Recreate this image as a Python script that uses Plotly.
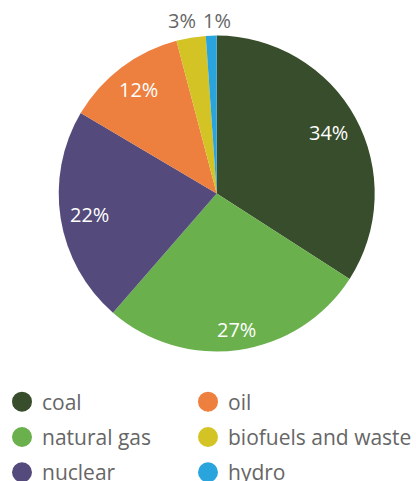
import math
import plotly.graph_objects as go

labels = ["coal", "natural gas", "nuclear", "oil", "biofuels and waste", "hydro"]
values = [34.1, 27.3, 22.1, 12.4, 3.0, 1.1]
colors = ["#384d2b", "#6ab04c", "#544a7c", "#ed7f3f", "#d4c325", "#29a4dd"]
label_inside = [True, True, True, True, False, False]
legend_col1 = ["coal", "natural gas", "nuclear"]
legend_col2 = ["oil", "biofuels and waste", "hydro"]

FONT = "Open Sans"
W, H = 416, 481
dom_x = [58.7 / W, 374.7 / W]
dom_y = [129.5 / H, 445.5 / H]

fig = go.Figure()
fig.add_trace(go.Pie(
    labels=labels, values=values, sort=False, direction="clockwise", rotation=0,
    marker=dict(colors=colors, line=dict(width=0)),
    textinfo="none", automargin=False,
    domain=dict(x=dom_x, y=dom_y),
    showlegend=False, hoverinfo="label+percent",
))

# percentage labels positioned from the slice angles
cx = (dom_x[0] + dom_x[1]) / 2 * W
cy = (1 - (dom_y[0] + dom_y[1]) / 2) * H
R = min((dom_x[1] - dom_x[0]) * W, (dom_y[1] - dom_y[0]) * H) / 2
total = sum(values)
cum = 0.0
placed = []
for lab, v, inside in zip(labels, values, label_inside):
    mid = (cum + v / 2) / total * 2 * math.pi
    cum += v
    txt = f"{round(v / total * 100)}%"
    w = 13.2 * len(txt)
    h = 20
    s, c = math.sin(mid), math.cos(mid)
    ext = w / 2 * abs(s) + h / 2 * abs(c)
    d = (R - 8 - ext) if inside else (R + 5 + ext)
    placed.append(dict(txt=txt, x=cx + d * s, y=cy - d * c, w=w, inside=inside))

# spread neighbouring outside labels apart so they do not collide
outs = sorted([p for p in placed if not p["inside"]], key=lambda p: p["x"])
for a, b in zip(outs, outs[1:]):
    gap = (b["x"] - b["w"] / 2) - (a["x"] + a["w"] / 2)
    need = 8 - gap
    if need > 0 and abs(a["y"] - b["y"]) < 20:
        a["x"] -= need / 2
        b["x"] += need / 2

annotations = [dict(
    x=p["x"] / W, y=1 - p["y"] / H, xref="paper", yref="paper",
    text=p["txt"], showarrow=False, xanchor="center", yanchor="middle",
    font=dict(family=FONT, size=20, color="white" if p["inside"] else "#666666"),
) for p in placed]

cmap = dict(zip(labels, colors))
for col, leg in ((legend_col1, "legend"), (legend_col2, "legend2")):
    for lab in col:
        fig.add_trace(go.Scatter(
            x=[None], y=[None], mode="markers", name=lab,
            marker=dict(symbol="circle", size=15, color=cmap[lab],
                        line=dict(width=5, color=cmap[lab])),
            showlegend=True, legend=leg, legendgroup=lab,
        ))

leg_common = dict(orientation="v", yanchor="top", xanchor="left",
                  tracegroupgap=5, bgcolor="rgba(0,0,0,0)",
                  font=dict(size=21, color="#666666", family=FONT))
fig.update_layout(
    width=W, height=H,
    margin=dict(l=0, r=0, t=0, b=0, autoexpand=False),
    paper_bgcolor="white", plot_bgcolor="white",
    xaxis=dict(visible=False), yaxis=dict(visible=False),
    font=dict(family=FONT, color="#666666", size=18),
    legend=dict(x=2 / W, y=(H - 381.5) / H, **leg_common),
    legend2=dict(x=188 / W, y=(H - 381.5) / H, **leg_common),
    annotations=annotations,
)

fig.write_html("out.html", config={"displayModeBar": False},
               post_script="document.body.style.margin='0';")
